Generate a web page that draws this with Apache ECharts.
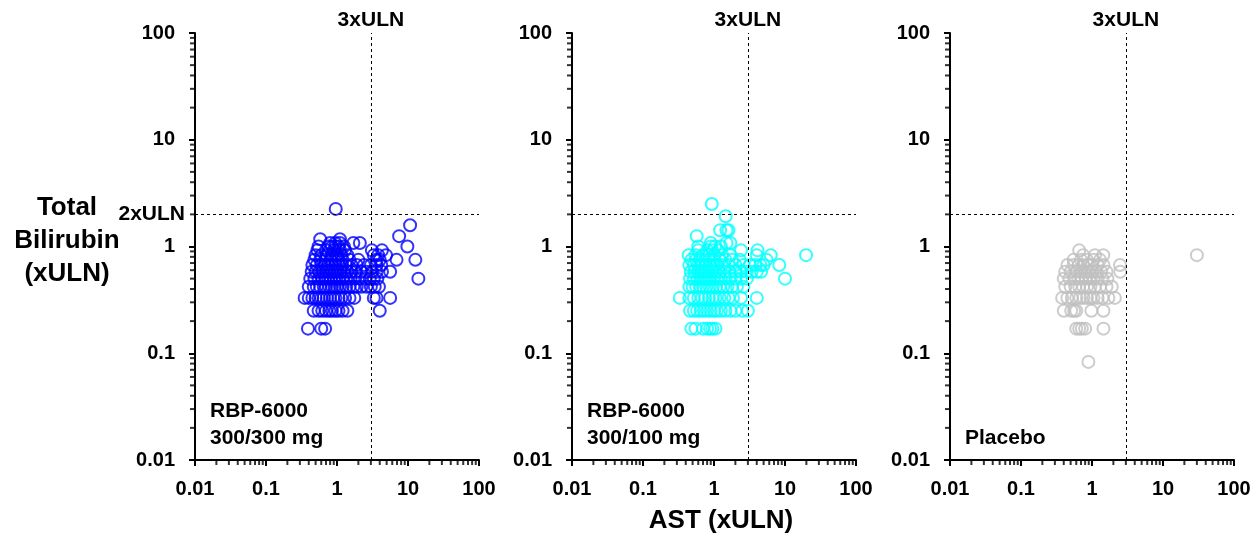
<!DOCTYPE html>
<html><head><meta charset="utf-8">
<script src="https://cdn.jsdelivr.net/npm/echarts@6/dist/echarts.min.js"></script>
<style>html,body{margin:0;padding:0;background:#fff}#c{width:1257px;height:540px}</style>
</head><body><div id="c"></div>
<script>
// ---- data ----
const majorTicks = [0.01, 0.1, 1, 10, 100];
const minorMultipliers = [2, 3, 4, 5, 6, 7, 8, 9];
const panelTitles = [["RBP-6000", "300/300 mg"], ["RBP-6000", "300/100 mg"], ["Placebo"]];
const panelColors = ["#0000ff", "#00ffff", "#bfbfbf"];
const astThreshold = 3;   // 3xULN
const biliThreshold = 2;  // 2xULN

// [AST xULN, Total bilirubin xULN]
const rbp300_300 = [
 [0.39,0.17],[0.6,0.17],[0.68,0.17],
 [0.47,0.25],[0.55,0.25],[0.62,0.25],[0.7,0.25],[0.78,0.25],[0.85,0.25],[0.95,0.25],[1.05,0.25],[1.2,0.25],[1.4,0.25],[4.0,0.25],
 [0.35,0.33],[0.4,0.33],[0.45,0.33],[0.5,0.33],[0.55,0.33],[0.6,0.33],[0.65,0.33],[0.72,0.33],[0.8,0.33],[0.88,0.33],[0.95,0.33],[1.05,0.33],[1.15,0.33],[1.3,0.33],[1.5,0.33],[1.75,0.33],[3.3,0.33],[3.6,0.33],[5.6,0.33],
 [0.4,0.42],[0.47,0.42],[0.52,0.42],[0.58,0.42],[0.65,0.42],[0.7,0.42],[0.78,0.42],[0.85,0.42],[0.92,0.42],[1.0,0.42],[1.1,0.42],[1.2,0.42],[1.35,0.42],[1.5,0.42],[1.7,0.42],[1.9,0.42],[2.2,0.42],[2.6,0.42],[3.0,0.42],[3.4,0.42],[3.9,0.42],
 [0.42,0.5],[0.48,0.5],[0.55,0.5],[0.62,0.5],[0.68,0.5],[0.75,0.5],[0.82,0.5],[0.9,0.5],[0.98,0.5],[1.08,0.5],[1.2,0.5],[1.35,0.5],[1.55,0.5],[1.8,0.5],[2.1,0.5],[2.5,0.5],[2.9,0.5],[3.3,0.5],[3.7,0.5],[14,0.5],
 [0.44,0.58],[0.5,0.58],[0.56,0.58],[0.63,0.58],[0.7,0.58],[0.77,0.58],[0.85,0.58],[0.93,0.58],[1.02,0.58],[1.12,0.58],[1.25,0.58],[1.4,0.58],[1.6,0.58],[1.85,0.58],[2.2,0.58],[2.6,0.58],[3.1,0.58],[3.6,0.58],[4.3,0.58],[5.6,0.58],
 [0.45,0.67],[0.52,0.67],[0.6,0.67],[0.68,0.67],[0.76,0.67],[0.85,0.67],[0.95,0.67],[1.05,0.67],[1.18,0.67],[1.35,0.67],[1.6,0.67],[1.9,0.67],[2.4,0.67],[3.0,0.67],[3.6,0.67],[4.2,0.67],
 [0.48,0.75],[0.58,0.75],[0.68,0.75],[0.8,0.75],[0.92,0.75],[1.05,0.75],[1.2,0.75],[1.5,0.75],[2.0,0.75],[3.6,0.75],[4.0,0.75],[6.9,0.75],[12.7,0.75],
 [0.5,0.83],[0.6,0.83],[0.72,0.83],[0.85,0.83],[1.0,0.83],[1.15,0.83],[1.4,0.83],[3.3,0.83],[3.8,0.83],[4.9,0.83],
 [0.53,0.92],[0.7,0.92],[0.9,0.92],[1.1,0.92],[1.3,0.92],[3.1,0.92],[4.3,0.92],
 [0.55,1.0],[0.75,1.0],[0.85,1.0],[0.95,1.0],[1.05,1.0],[1.25,1.0],[9.8,1.0],
 [0.8,1.08],[0.95,1.08],[1.1,1.08],[1.7,1.08],[2.1,1.08],
 [0.58,1.17],[1.1,1.17],[7.5,1.25],[10.7,1.58],[0.96,2.25]
];
const rbp300_100 = [
 [0.48,0.17],[0.55,0.17],[0.7,0.17],[0.8,0.17],[0.88,0.17],[0.95,0.17],[1.05,0.17],
 [0.46,0.25],[0.52,0.25],[0.58,0.25],[0.65,0.25],[0.72,0.25],[0.8,0.25],[0.9,0.25],[1.0,0.25],[1.1,0.25],[1.25,0.25],[1.45,0.25],[1.7,0.25],[2.0,0.25],[2.5,0.25],[3.0,0.25],
 [0.33,0.33],[0.45,0.33],[0.52,0.33],[0.6,0.33],[0.68,0.33],[0.75,0.33],[0.85,0.33],[0.95,0.33],[1.05,0.33],[1.2,0.33],[1.4,0.33],[1.6,0.33],[1.85,0.33],[2.4,0.33],[4.0,0.33],
 [0.45,0.42],[0.5,0.42],[0.56,0.42],[0.63,0.42],[0.7,0.42],[0.78,0.42],[0.87,0.42],[0.96,0.42],[1.07,0.42],[1.2,0.42],[1.35,0.42],[1.55,0.42],[1.8,0.42],[2.1,0.42],[2.6,0.42],
 [0.46,0.5],[0.52,0.5],[0.58,0.5],[0.65,0.5],[0.72,0.5],[0.8,0.5],[0.9,0.5],[1.0,0.5],[1.1,0.5],[1.25,0.5],[1.45,0.5],[1.7,0.5],[2.0,0.5],[2.4,0.5],[2.9,0.5],[10,0.5],
 [0.47,0.58],[0.53,0.58],[0.6,0.58],[0.67,0.58],[0.75,0.58],[0.84,0.58],[0.94,0.58],[1.05,0.58],[1.2,0.58],[1.4,0.58],[1.65,0.58],[2.0,0.58],[2.4,0.58],[2.9,0.58],[3.4,0.58],[4.0,0.58],[4.6,0.58],
 [0.45,0.67],[0.52,0.67],[0.6,0.67],[0.68,0.67],[0.77,0.67],[0.87,0.67],[0.98,0.67],[1.1,0.67],[1.3,0.67],[1.6,0.67],[2.0,0.67],[2.6,0.67],[3.2,0.67],[3.8,0.67],[4.5,0.67],[5.0,0.67],[8.3,0.67],
 [0.48,0.75],[0.56,0.75],[0.65,0.75],[0.75,0.75],[0.86,0.75],[1.0,0.75],[1.2,0.75],[1.45,0.75],[1.8,0.75],[2.3,0.75],[5.5,0.75],
 [0.44,0.83],[0.55,0.83],[0.7,0.83],[0.85,0.83],[1.0,0.83],[1.3,0.83],[1.7,0.83],[4.0,0.83],[6.3,0.83],[19.8,0.83],
 [0.6,0.92],[0.8,0.92],[0.95,0.92],[1.15,0.92],[2.4,0.92],[4.1,0.92],
 [0.6,1.0],[0.9,1.0],[1.03,1.0],[1.25,1.0],
 [0.9,1.08],[1.5,1.08],[1.7,1.08],
 [0.57,1.25],[1.22,1.42],[1.5,1.42],[1.6,1.42],[1.46,1.92],[0.93,2.5]
];
const placebo = [
 [0.89,0.083],
 [0.6,0.17],[0.66,0.17],[0.72,0.17],[0.8,0.17],[1.45,0.17],
 [0.4,0.25],[0.51,0.25],[0.56,0.25],[0.6,0.25],[0.98,0.25],[1.45,0.25],
 [0.38,0.33],[0.45,0.33],[0.52,0.33],[0.6,0.33],[0.68,0.33],[0.76,0.33],[0.85,0.33],[0.95,0.33],[1.05,0.33],[1.2,0.33],[1.4,0.33],[1.7,0.33],[2.1,0.33],
 [0.42,0.42],[0.5,0.42],[0.58,0.42],[0.66,0.42],[0.75,0.42],[0.85,0.42],[0.95,0.42],[1.1,0.42],[1.3,0.42],[1.6,0.42],[1.9,0.42],
 [0.4,0.5],[0.48,0.5],[0.56,0.5],[0.64,0.5],[0.72,0.5],[0.82,0.5],[0.92,0.5],[1.05,0.5],[1.2,0.5],[1.4,0.5],[1.65,0.5],
 [0.42,0.58],[0.5,0.58],[0.6,0.58],[0.7,0.58],[0.8,0.58],[0.9,0.58],[1.0,0.58],[1.15,0.58],[1.35,0.58],[1.6,0.58],[2.5,0.58],
 [0.45,0.67],[0.55,0.67],[0.65,0.67],[0.75,0.67],[0.88,0.67],[1.0,0.67],[1.2,0.67],[1.45,0.67],[2.48,0.67],
 [0.55,0.75],[0.7,0.75],[0.85,0.75],[1.05,0.75],[1.3,0.75],
 [0.75,0.83],[1.1,0.83],[1.44,0.83],[30,0.83],
 [0.66,0.92]
];
const panelData = [rbp300_300, rbp300_100, placebo];

// ---- chart ----
const FONT = "'Liberation Sans', Arial, sans-serif";
const gridLefts = [195, 572, 950];
const GRID_W = 284, GRID_TOP = 33, GRID_H = 427;

const minorVals = [];
majorTicks.slice(0, -1).forEach(d => minorMultipliers.forEach(m => minorVals.push(+(d * m).toPrecision(3))));
const fmt = v => String(+(+v).toPrecision(3));

const grids = [], xAxes = [], yAxes = [], series = [], graphics = [];
panelData.forEach((data, i) => {
  grids.push({left: gridLefts[i], top: GRID_TOP, width: GRID_W, height: GRID_H});
  const axisCommon = {
    type: 'log', logBase: 10, min: majorTicks[0], max: majorTicks[majorTicks.length - 1], gridIndex: i,
    axisLine: {show: true, lineStyle: {color: '#000', width: 2}},
    axisTick: {show: true, length: 6, lineStyle: {color: '#000', width: 2}},
    splitLine: {show: false}, minorTick: {show: false}, minorSplitLine: {show: false},
    axisLabel: {color: '#000', fontSize: 20, fontWeight: 'bold', fontFamily: FONT, formatter: fmt, showMinLabel: true, showMaxLabel: true}
  };
  xAxes.push(Object.assign({}, axisCommon, {axisLabel: Object.assign({}, axisCommon.axisLabel, {margin: 19})}));
  yAxes.push(Object.assign({}, axisCommon, {axisLabel: Object.assign({}, axisCommon.axisLabel, {margin: 20})}));

  const mlData = [
    {xAxis: astThreshold, label: {show: true, position: 'end', formatter: '3xULN', distance: 2,
      color: '#000', fontSize: 21, fontWeight: 'bold', fontFamily: FONT}},
    {yAxis: biliThreshold, label: i === 0 ? {show: true, position: 'start', formatter: '2xULN', distance: 10,
      color: '#000', fontSize: 21, fontWeight: 'bold', fontFamily: FONT} : {show: false}}
  ];
  series.push({
    type: 'scatter', xAxisIndex: i, yAxisIndex: i, data: data,
    symbol: 'circle', symbolSize: 12,
    itemStyle: {color: 'rgba(0,0,0,0)', borderColor: panelColors[i], borderWidth: 2},
    markLine: {silent: true, symbol: 'none', lineStyle: {color: '#000', width: 1, type: [3, 3]}, data: mlData},
    z: 3
  });
  // minor ticks on x axis (drawn as small rect marks at 2..9 x 10^k)
  series.push({
    type: 'scatter', xAxisIndex: i, yAxisIndex: i, silent: true, clip: false,
    data: minorVals.map(v => [v, majorTicks[0]]),
    symbol: 'rect', symbolSize: [2, 4], symbolOffset: [0, 3],
    itemStyle: {color: '#000'}, z: 4
  });
  // minor ticks on y axis
  series.push({
    type: 'scatter', xAxisIndex: i, yAxisIndex: i, silent: true, clip: false,
    data: minorVals.map(v => [majorTicks[0], v]),
    symbol: 'rect', symbolSize: [4, 2], symbolOffset: [-3, 0],
    itemStyle: {color: '#000'}, z: 4
  });
  // panel labels
  const lines = panelTitles[i];
  lines.forEach((t, k) => {
    graphics.push({type: 'text', style: {text: t, x: gridLefts[i] + 15, y: 440 - 27 * (lines.length - 1 - k) - 12,
      fill: '#000', font: "bold 21px " + FONT}});
  });
});

graphics.push({type: 'text',
  style: {text: 'Total\nBilirubin\n(xULN)', x: 67, y: 191, fill: '#000', font: "bold 26px " + FONT,
    textAlign: 'center', lineHeight: 33}});
graphics.push({type: 'text', style: {text: 'AST (xULN)', x: 721, y: 508, fill: '#000', font: "bold 26px " + FONT,
  textAlign: 'center'}});

const chart = echarts.init(document.getElementById('c'), null, {renderer: 'canvas'});
chart.setOption({
  animation: false, backgroundColor: '#fff',
  grid: grids, xAxis: xAxes, yAxis: yAxes, series: series, graphic: graphics
});
</script></body></html>
